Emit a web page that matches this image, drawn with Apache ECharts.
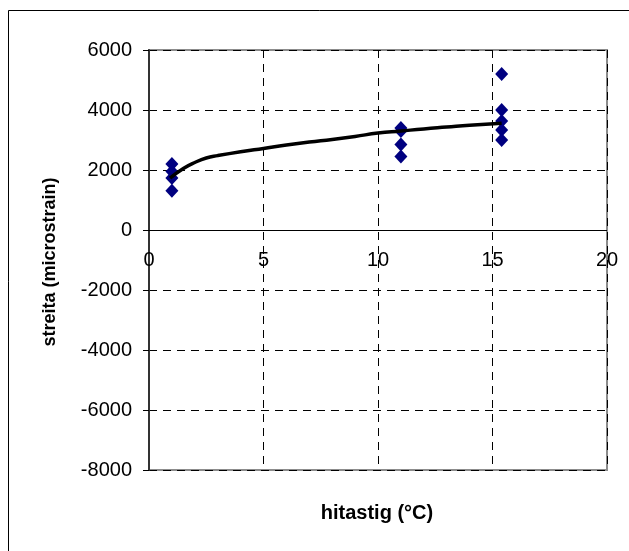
<!DOCTYPE html>
<html>
<head>
<meta charset="utf-8">
<script src="https://cdn.jsdelivr.net/npm/echarts@6/dist/echarts.min.js"></script>
<style>
  html, body { margin: 0; padding: 0; background: #fff; }
  #chart { width: 629px; height: 551px; }
</style>
</head>
<body>
<div id="chart"></div>
<script>
// Measured strain at three temperatures
const tempGroups = [1, 11, 15.4];
const strainAt1 = [2200, 1950, 1730, 1310];
const strainAt11 = [3400, 3300, 2850, 2450];
const strainAt15 = [5200, 4000, 3630, 3330, 3000];

// Fitted trend curve
const trendX = [0.92, 1.5, 2, 2.5, 3, 4, 5, 6, 7, 8, 9, 10, 11, 12, 13, 14, 15.4];
const trendY = [1730, 2050, 2250, 2400, 2480, 2610, 2720, 2830, 2930, 3020, 3120, 3230, 3300, 3370, 3430, 3490, 3560];

// Axis setup
const xMin = 0, xMax = 20, xStep = 5;
const yMin = -8000, yMax = 6000, yStep = 2000;
const xTitle = 'hitastig (°C)';
const yTitle = 'streita (microstrain)';

const FONT = '"Liberation Sans", Arial, sans-serif';

const scatterData = [];
[strainAt1, strainAt11, strainAt15].forEach((vals, i) => {
  vals.forEach(v => scatterData.push([tempGroups[i], v]));
});
const trendData = trendX.map((x, i) => [x, trendY[i]]);

const chart = echarts.init(document.getElementById('chart'), null, { renderer: 'canvas' });

chart.setOption({
  animation: false,
  backgroundColor: '#ffffff',
  grid: {
    left: 149, top: 50, right: 22, bottom: 81,
    show: true, borderColor: '#8c8c8c', borderWidth: 2, backgroundColor: 'transparent'
  },
  xAxis: {
    type: 'value', min: xMin, max: xMax, interval: xStep,
    axisLine: { show: false, onZero: false },
    axisTick: { show: false },
    // labels sit just under the zero line that crosses the plot
    axisLabel: {
      color: '#000', fontFamily: FONT, fontSize: 20, margin: -220,
      formatter: v => String(v)
    },
    splitLine: { show: true, lineStyle: { color: '#000', type: [8, 6], width: 1 } }
  },
  yAxis: {
    type: 'value', min: yMin, max: yMax, interval: yStep,
    axisLine: { onZero: false, lineStyle: { color: '#333', width: 2 } },
    axisTick: { show: true, inside: false, length: 6, lineStyle: { color: '#000' } },
    axisLabel: {
      color: '#000', fontFamily: FONT, fontSize: 20, margin: 17,
      formatter: v => String(v)
    },
    splitLine: { show: true, lineStyle: { color: '#000', type: [8, 6], width: 1 } }
  },
  series: [
    {
      type: 'line', data: trendData, smooth: true, showSymbol: false,
      lineStyle: { color: '#000', width: 3.5 }, z: 3
    },
    {
      type: 'scatter', data: scatterData, symbol: 'diamond', symbolSize: [13, 14],
      itemStyle: { color: '#000080', opacity: 1 }, z: 2,
      markLine: {
        silent: true, symbol: 'none', label: { show: false },
        lineStyle: { color: '#000', width: 1, type: 'solid' },
        data: [{ yAxis: 0 }]
      }
    }
  ],
  graphic: [
    {
      type: 'polyline', silent: true,
      shape: { points: [[8.5, 560], [8.5, 10.5], [640, 10.5]] },
      style: { stroke: '#000', lineWidth: 1, fill: null }
    },
    {
      type: 'text', x: 377, y: 513,
      style: { text: xTitle, fontFamily: FONT, fontSize: 20, fontWeight: 'bold', fill: '#000', align: 'center', verticalAlign: 'middle' }
    },
    {
      type: 'text', x: 50, y: 262, rotation: Math.PI / 2,
      style: { text: yTitle, fontFamily: FONT, fontSize: 18, fontWeight: 'bold', fill: '#000', align: 'center', verticalAlign: 'middle' }
    }
  ]
});
</script>
</body>
</html>
